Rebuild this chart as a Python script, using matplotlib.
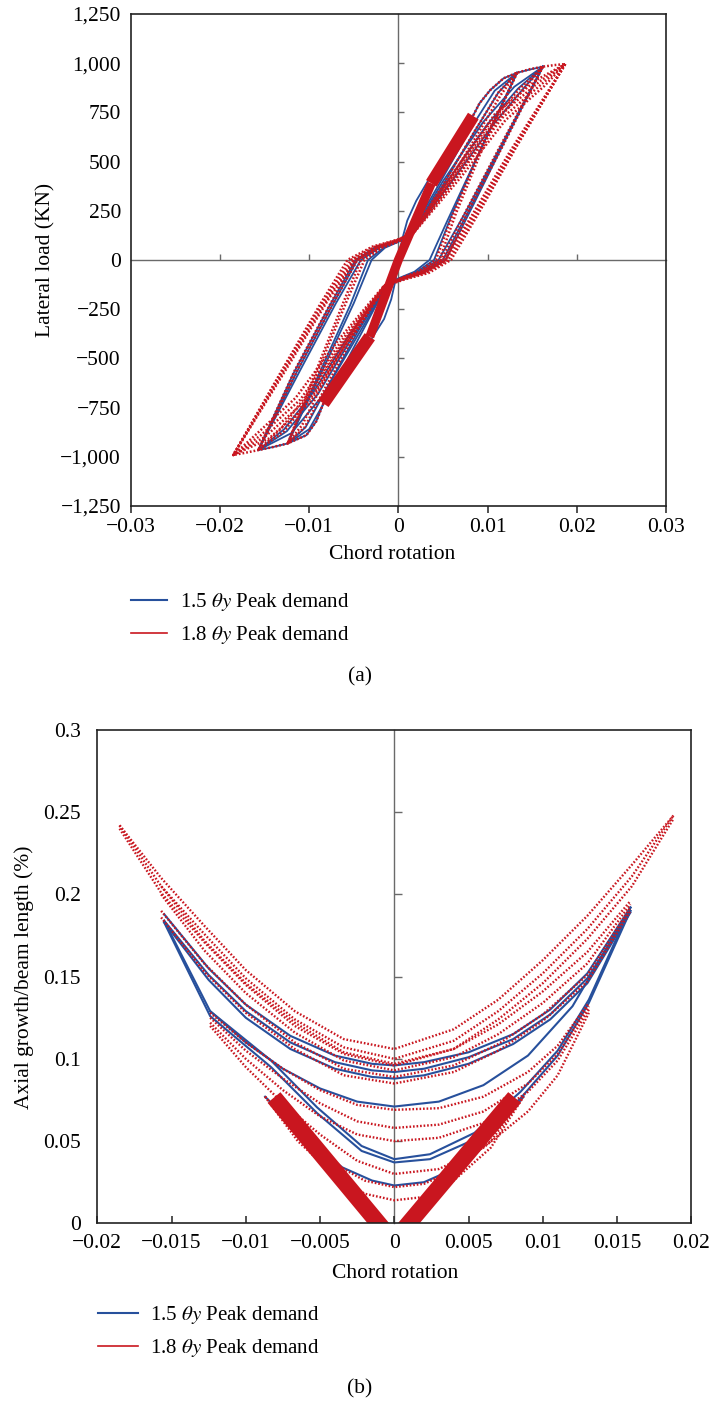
import matplotlib
matplotlib.use('Agg')
import matplotlib.pyplot as plt
from matplotlib.lines import Line2D

plt.rcParams['font.family'] = ['Liberation Serif', 'DejaVu Serif']
plt.rcParams['mathtext.fontset'] = 'stix'
plt.rcParams['font.size'] = 15.5

# ---------------- data: panel (a) lateral load vs chord rotation ----------------
a_xticks = [-0.03, -0.02, -0.01, 0.0, 0.01, 0.02, 0.03]
a_xticklabels = ['\u22120.03', '\u22120.02', '\u22120.01', '0', '0.01', '0.02', '0.03']
a_yticks = [-1250, -1000, -750, -500, -250, 0, 250, 500, 750, 1000, 1250]
a_yticklabels = ['\u22121,250', '\u22121,000', '\u2212750', '\u2212500', '\u2212250', '0',
                 '250', '500', '750', '1,000', '1,250']

# elastic small cycles (dense red band)
a_band_in_x = [-0.0032, 0.0, 0.0037]
a_band_in_y = [-390, 0, 389]
a_band_out_pos_x = [0.0037, 0.0084]
a_band_out_pos_y = [389, 731]
a_band_out_neg_x = [-0.0084, -0.0032]
a_band_out_neg_y = [-729, -390]

# blue backbone
a_blue_env_pos_x = [0.0, 0.0004, 0.0010, 0.0020, 0.0033, 0.0050, 0.0067, 0.0084, 0.0091, 0.0103, 0.0118, 0.0133, 0.0148, 0.0162]
a_blue_env_pos_y = [0, 100, 200, 300, 400, 520, 630, 735, 796, 863, 923, 951, 968, 982]
a_blue_env_neg_x = [0.0, -0.0003, -0.0008, -0.0016, -0.0030, -0.0048, -0.0066, -0.0084, -0.0092, -0.0103, -0.0124, -0.0140, -0.0157]
a_blue_env_neg_y = [0, -100, -200, -300, -400, -520, -630, -729, -820, -890, -932, -950, -966]

# red backbone beyond the elastic band
a_red_env_pos_x = [0.0084, 0.0091, 0.0103, 0.0118, 0.0133, 0.0148, 0.0162, 0.0175, 0.0187]
a_red_env_pos_y = [735, 796, 863, 923, 951, 970, 982, 990, 995]
a_red_env_neg_x = [-0.0084, -0.0092, -0.0103, -0.0124, -0.0140, -0.0157, -0.0172, -0.0185]
a_red_env_neg_y = [-729, -820, -890, -932, -950, -966, -980, -991]

# blue cycles
a_blue_c1_x = [0.0133, 0.0090, 0.0055, 0.0035, 0.0018, 0.0003, -0.0012, -0.0040, -0.0075, -0.0100, -0.0124, -0.0085, -0.0050, -0.0030, -0.0015, 0.0000, 0.0012, 0.0045, 0.0080, 0.0108, 0.0133]
a_blue_c1_y = [951, 540, 200, 0, -60, -88, -118, -360, -660, -860, -932, -560, -220, 0, 62, 92, 122, 380, 660, 860, 951]
a_blue_c2_x = [0.0133, 0.0092, 0.0060, 0.0040, 0.0020, 0.0004, -0.0012, -0.0045, -0.0080, -0.0104, -0.0124, -0.0088, -0.0054, -0.0034, -0.0016, 0.0000, 0.0013, 0.0050, 0.0085, 0.0112, 0.0133]
a_blue_c2_y = [951, 560, 230, 0, -62, -90, -120, -360, -650, -850, -932, -570, -230, 0, 64, 94, 124, 380, 650, 850, 951]
a_blue_c3_x = [0.0162, 0.0115, 0.0075, 0.0045, 0.0022, 0.0004, -0.0012, -0.0045, -0.0085, -0.0120, -0.0157, -0.0110, -0.0070, -0.0042, -0.0020, 0.0000, 0.0014, 0.0050, 0.0095, 0.0130, 0.0162]
a_blue_c3_y = [982, 580, 240, 0, -62, -92, -125, -380, -690, -880, -966, -560, -220, 0, 65, 95, 128, 400, 700, 880, 982]
a_blue_c4_x = [0.0162, 0.0118, 0.0080, 0.0050, 0.0025, 0.0005, -0.0012, -0.0050, -0.0090, -0.0125, -0.0157, -0.0114, -0.0074, -0.0046, -0.0022, 0.0000, 0.0015, 0.0055, 0.0100, 0.0134, 0.0162]
a_blue_c4_y = [982, 600, 260, 0, -64, -94, -128, -380, -680, -870, -966, -570, -230, 0, 66, 96, 130, 400, 690, 870, 982]
a_blue_c5_x = [0.0162, 0.0120, 0.0084, 0.0053, 0.0028, 0.0006, -0.0012, -0.0055, -0.0095, -0.0128, -0.0157, -0.0118, -0.0078, -0.0048, -0.0025, 0.0000, 0.0016, 0.0060, 0.0105, 0.0138, 0.0162]
a_blue_c5_y = [982, 610, 280, 0, -66, -96, -130, -380, -670, -860, -966, -580, -240, 0, 67, 97, 132, 400, 680, 860, 982]

# red cycles
a_red_c1_x = [0.0133, 0.0088, 0.0060, 0.0042, 0.0022, 0.0004, -0.0013, -0.0048, -0.0082, -0.0105, -0.0124, -0.0088, -0.0058, -0.0038, -0.0018, 0.0000, 0.0014, 0.0050, 0.0085, 0.0112, 0.0133]
a_red_c1_y = [951, 520, 220, 0, -60, -90, -122, -370, -650, -850, -932, -540, -210, 0, 62, 94, 126, 380, 650, 850, 951]
a_red_c2_x = [0.0162, 0.0112, 0.0076, 0.0048, 0.0026, 0.0004, -0.0014, -0.0052, -0.0095, -0.0128, -0.0157, -0.0112, -0.0073, -0.0046, -0.0022, 0.0000, 0.0015, 0.0058, 0.0102, 0.0136, 0.0162]
a_red_c2_y = [982, 560, 250, 0, -64, -93, -126, -380, -680, -870, -966, -550, -220, 0, 64, 96, 128, 400, 690, 870, 982]
a_red_c3_x = [0.0187, 0.0128, 0.0082, 0.0053, 0.0029, 0.0005, -0.0015, -0.0058, -0.0105, -0.0150, -0.0185, -0.0128, -0.0080, -0.0050, -0.0025, -0.0002, 0.0015, 0.0062, 0.0112, 0.0158, 0.0187]
a_red_c3_y = [995, 560, 210, 0, -62, -95, -130, -400, -720, -900, -991, -560, -200, 0, 65, 98, 132, 420, 730, 905, 995]
a_red_c4_x = [0.0187, 0.0131, 0.0086, 0.0056, 0.0031, 0.0006, -0.0016, -0.0062, -0.0110, -0.0154, -0.0185, -0.0131, -0.0084, -0.0053, -0.0027, -0.0002, 0.0016, 0.0066, 0.0116, 0.0161, 0.0187]
a_red_c4_y = [995, 570, 220, 0, -64, -97, -133, -400, -710, -890, -991, -570, -210, 0, 66, 100, 134, 420, 720, 895, 995]
a_red_c5_x = [0.0187, 0.0125, 0.0079, 0.0050, 0.0027, 0.0004, -0.0014, -0.0055, -0.0100, -0.0146, -0.0185, -0.0125, -0.0077, -0.0047, -0.0023, -0.0002, 0.0014, 0.0058, 0.0108, 0.0155, 0.0187]
a_red_c5_y = [995, 550, 200, 0, -60, -93, -128, -400, -730, -910, -991, -550, -190, 0, 64, 96, 130, 420, 740, 915, 995]
a_red_c6_x = [0.0162, 0.0116, 0.0080, 0.0053, 0.0029, 0.0005, -0.0015, -0.0056, -0.0100, -0.0132, -0.0157, -0.0116, -0.0077, -0.0050, -0.0025, 0.0000, 0.0016, 0.0062, 0.0106, 0.0139, 0.0162]
a_red_c6_y = [982, 570, 260, 0, -66, -95, -128, -380, -670, -860, -966, -560, -230, 0, 66, 97, 130, 400, 680, 860, 982]
a_red_c7_x = [0.0133, 0.0091, 0.0064, 0.0046, 0.0025, 0.0005, -0.0014, -0.0052, -0.0086, -0.0108, -0.0124, -0.0091, -0.0062, -0.0042, -0.0020, 0.0000, 0.0015, 0.0054, 0.0089, 0.0115, 0.0133]
a_red_c7_y = [951, 530, 230, 0, -62, -92, -124, -370, -640, -840, -932, -550, -220, 0, 63, 95, 127, 380, 640, 840, 951]
a_red_c8_x = [0.0187, 0.0133, 0.0089, 0.0059, 0.0034, 0.0007, -0.0017, -0.0066, -0.0115, -0.0158, -0.0185, -0.0133, -0.0087, -0.0057, -0.0029, -0.0002, 0.0017, 0.0070, 0.0120, 0.0164, 0.0187]
a_red_c8_y = [995, 580, 230, 0, -66, -99, -136, -400, -700, -880, -991, -580, -220, 0, 68, 102, 136, 420, 710, 885, 995]

# ---------------- data: panel (b) axial growth vs chord rotation ----------------
b_xticks = [-0.02, -0.015, -0.01, -0.005, 0.0, 0.005, 0.01, 0.015, 0.02]
b_xticklabels = ['\u22120.02', '\u22120.015', '\u22120.01', '\u22120.005', '0', '0.005', '0.01', '0.015', '0.02']
b_yticks = [0.0, 0.05, 0.1, 0.15, 0.2, 0.25, 0.3]
b_yticklabels = ['0', '0.05', '0.1', '0.15', '0.2', '0.25', '0.3']

b_v_left_x = [-0.0081, -0.0007]
b_v_left_y = [0.0765, -0.004]
b_v_right_x = [0.0006, 0.0081]
b_v_right_y = [-0.004, 0.0765]

b_red_big_x = [-0.0185, -0.0157, -0.0128, -0.0100, -0.0067, -0.0034, 0.0, 0.0040, 0.0070, 0.0100, 0.0130, 0.0160, 0.0188]
b_red_big1_y = [0.242, 0.210, 0.181, 0.154, 0.129, 0.112, 0.106, 0.118, 0.136, 0.160, 0.187, 0.218, 0.248]
b_red_big2_y = [0.242, 0.205, 0.176, 0.149, 0.124, 0.107, 0.100, 0.111, 0.129, 0.152, 0.179, 0.211, 0.248]
b_red_big3_y = [0.240, 0.201, 0.171, 0.145, 0.120, 0.103, 0.096, 0.106, 0.124, 0.146, 0.173, 0.205, 0.246]

b_red_mid_x = [-0.0157, -0.0128, -0.0100, -0.0067, -0.0034, 0.0, 0.0040, 0.0070, 0.0100, 0.0130, 0.0159]
b_red_mid1_y = [0.205, 0.172, 0.146, 0.122, 0.104, 0.097, 0.106, 0.121, 0.141, 0.165, 0.196]
b_red_mid2_y = [0.200, 0.166, 0.140, 0.116, 0.099, 0.093, 0.101, 0.115, 0.134, 0.158, 0.194]
b_red_mid3_y = [0.190, 0.158, 0.133, 0.110, 0.094, 0.089, 0.096, 0.109, 0.127, 0.151, 0.192]
b_red_mid4_y = [0.186, 0.153, 0.128, 0.106, 0.090, 0.085, 0.092, 0.105, 0.123, 0.147, 0.190]

b_red_low_x = [-0.0124, -0.0100, -0.0075, -0.0050, -0.0025, 0.0, 0.0030, 0.0060, 0.0090, 0.0110, 0.0131]
b_red_low1_y = [0.128, 0.110, 0.094, 0.081, 0.072, 0.069, 0.070, 0.077, 0.092, 0.108, 0.134]
b_red_low2_y = [0.125, 0.105, 0.088, 0.073, 0.062, 0.058, 0.060, 0.068, 0.085, 0.103, 0.132]
b_red_low3_y = [0.122, 0.100, 0.081, 0.065, 0.054, 0.050, 0.052, 0.061, 0.080, 0.099, 0.130]
b_red_low4_y = [0.120, 0.095, 0.073, 0.054, 0.038, 0.030, 0.033, 0.046, 0.068, 0.090, 0.128]

b_red_in_x = [-0.0087, -0.0065, -0.0040, -0.0020, 0.0, 0.0020, 0.0040, 0.0065, 0.0087]
b_red_in1_y = [0.077, 0.055, 0.036, 0.026, 0.022, 0.024, 0.032, 0.050, 0.077]
b_red_in2_y = [0.077, 0.050, 0.029, 0.018, 0.014, 0.016, 0.026, 0.046, 0.077]

b_blue_up_x = [-0.0155, -0.0125, -0.0100, -0.0070, -0.0040, -0.0015, 0.0, 0.0020, 0.0050, 0.0080, 0.0105, 0.0130, 0.0159]
b_blue_up1_y = [0.188, 0.155, 0.133, 0.114, 0.102, 0.097, 0.096, 0.098, 0.104, 0.115, 0.130, 0.152, 0.192]
b_blue_up2_y = [0.184, 0.151, 0.129, 0.110, 0.098, 0.093, 0.092, 0.094, 0.101, 0.112, 0.127, 0.149, 0.190]
b_blue_up3_y = [0.183, 0.148, 0.125, 0.106, 0.094, 0.089, 0.088, 0.090, 0.097, 0.109, 0.124, 0.146, 0.189]

b_blue_mid_x = [-0.0124, -0.0100, -0.0075, -0.0050, -0.0025, 0.0, 0.0030, 0.0060, 0.0090, 0.0120, 0.0159]
b_blue_mid_y = [0.129, 0.110, 0.094, 0.082, 0.074, 0.071, 0.074, 0.084, 0.102, 0.132, 0.192]

b_blue_low_x = [-0.0155, -0.0124, -0.0083, -0.0052, -0.0022, 0.0, 0.0024, 0.0054, 0.0085, 0.0110, 0.0131, 0.0159]
b_blue_low1_y = [0.184, 0.129, 0.099, 0.0705, 0.047, 0.039, 0.042, 0.055, 0.080, 0.105, 0.136, 0.192]
b_blue_low2_y = [0.183, 0.126, 0.095, 0.067, 0.044, 0.037, 0.039, 0.051, 0.076, 0.102, 0.134, 0.190]

b_blue_in_x = [-0.0087, -0.0060, -0.0035, -0.0015, 0.0, 0.0020, 0.0045, 0.0070, 0.0087]
b_blue_in_y = [0.077, 0.052, 0.034, 0.026, 0.023, 0.025, 0.035, 0.058, 0.077]

legend_labels = [r'1.5 $\theta y$ Peak demand', r'1.8 $\theta y$ Peak demand']

# ---------------- styling ----------------
RED = '#c9161f'
BLUE = '#27509c'
DOT = (0, (0.7, 0.8))
FRAME = '#222222'
CENTER = '#6a6a6a'

W, H = 709, 1405
fig = plt.figure(figsize=(W / 100, H / 100), dpi=100)


def px_axes(left, top, right, bottom):
    return [left / W, 1 - bottom / H, (right - left) / W, (bottom - top) / H]


def make_axes(rect, xlim, ylim, xt, xtl, yt, ytl, xtick_dir, ypad, xpad, center_h,
              cx_ticks, cy_ticks, clen):
    axc = fig.add_axes(rect)
    ax = fig.add_axes(rect)
    axc.set_zorder(1)
    ax.set_zorder(2)
    ax.patch.set_visible(False)
    for a in (ax, axc):
        a.set_xlim(*xlim)
        a.set_ylim(*ylim)
    axc.spines['top'].set_visible(False)
    axc.spines['right'].set_visible(False)
    axc.spines['left'].set_position(('data', 0))
    axc.spines['left'].set_color(CENTER)
    axc.spines['left'].set_linewidth(1.0)
    if center_h:
        axc.spines['bottom'].set_position(('data', 0))
        axc.spines['bottom'].set_color(CENTER)
        axc.spines['bottom'].set_linewidth(1.0)
        axc.set_xticks(cx_ticks)
    else:
        axc.spines['bottom'].set_visible(False)
        axc.set_xticks([])
    axc.set_yticks(cy_ticks)
    axc.tick_params(axis='both', direction='in', length=clen, width=1.0, color=CENTER,
                    labelleft=False, labelbottom=False)
    for s in ax.spines.values():
        s.set_color(FRAME)
        s.set_linewidth(1.2)
    ax.set_xticks(xt)
    ax.set_xticklabels(xtl)
    ax.set_yticks(yt)
    ax.set_yticklabels(ytl)
    ax.tick_params(axis='x', direction=xtick_dir, length=5, width=1.1, color=FRAME,
                   pad=xpad, labelsize=15.5)
    ax.tick_params(axis='y', length=0, pad=ypad, labelsize=15.5)
    return ax


# ---------------- panel (a) ----------------
ax_a = make_axes(px_axes(130.7, 13.9, 666, 506), (-0.03, 0.03), (-1250, 1250),
                 a_xticks, a_xticklabels, a_yticks, a_yticklabels, 'out', 7, 4, True,
                 [-0.02, -0.01, 0.01, 0.02], [-1000, -750, -500, -250, 250, 500, 750, 1000], 4.5)

blue_a = [(a_blue_env_pos_x, a_blue_env_pos_y), (a_blue_env_neg_x, a_blue_env_neg_y),
          (a_blue_c1_x, a_blue_c1_y), (a_blue_c2_x, a_blue_c2_y),
          (a_blue_c3_x, a_blue_c3_y), (a_blue_c4_x, a_blue_c4_y), (a_blue_c5_x, a_blue_c5_y)]
for xs, ys in blue_a:
    ax_a.plot(xs, ys, color=BLUE, lw=1.3, solid_joinstyle='round')

red_a = [(a_red_env_pos_x, a_red_env_pos_y), (a_red_env_neg_x, a_red_env_neg_y),
         (a_red_c1_x, a_red_c1_y), (a_red_c2_x, a_red_c2_y),
         (a_red_c3_x, a_red_c3_y), (a_red_c4_x, a_red_c4_y),
         (a_red_c5_x, a_red_c5_y), (a_red_c6_x, a_red_c6_y),
         (a_red_c7_x, a_red_c7_y), (a_red_c8_x, a_red_c8_y)]
for xs, ys in red_a:
    ax_a.plot(xs, ys, color=RED, lw=1.8, linestyle=DOT)

ax_a.plot(a_band_in_x, a_band_in_y, color=RED, lw=6.5, solid_capstyle='butt')
ax_a.plot(a_band_out_pos_x, a_band_out_pos_y, color=RED, lw=9, solid_capstyle='butt')
ax_a.plot(a_band_out_neg_x, a_band_out_neg_y, color=RED, lw=9, solid_capstyle='butt')

# ---------------- panel (b) ----------------
ax_b = make_axes(px_axes(97.3, 730, 691.3, 1223.3), (-0.02, 0.02), (0, 0.3),
                 b_xticks, b_xticklabels, b_yticks, b_yticklabels, 'in', 12, 8, False,
                 [], [0.05, 0.1, 0.15, 0.2, 0.25], 6)

blue_b = [(b_blue_up_x, b_blue_up1_y), (b_blue_up_x, b_blue_up2_y), (b_blue_up_x, b_blue_up3_y),
          (b_blue_mid_x, b_blue_mid_y), (b_blue_low_x, b_blue_low1_y),
          (b_blue_low_x, b_blue_low2_y), (b_blue_in_x, b_blue_in_y)]
for xs, ys in blue_b:
    ax_b.plot(xs, ys, color=BLUE, lw=1.5, solid_joinstyle='round')

red_b = [(b_red_big_x, b_red_big1_y), (b_red_big_x, b_red_big2_y), (b_red_big_x, b_red_big3_y),
         (b_red_mid_x, b_red_mid1_y), (b_red_mid_x, b_red_mid2_y), (b_red_mid_x, b_red_mid3_y),
         (b_red_mid_x, b_red_mid4_y),
         (b_red_low_x, b_red_low1_y), (b_red_low_x, b_red_low2_y),
         (b_red_low_x, b_red_low3_y), (b_red_low_x, b_red_low4_y),
         (b_red_in_x, b_red_in1_y), (b_red_in_x, b_red_in2_y)]
for xs, ys in red_b:
    ax_b.plot(xs, ys, color=RED, lw=1.7, linestyle=DOT)

ax_b.plot(b_v_left_x, b_v_left_y, color=RED, lw=12, solid_capstyle='butt')
ax_b.plot(b_v_right_x, b_v_right_y, color=RED, lw=12, solid_capstyle='butt')

# ---------------- labels, legends, captions ----------------
fig.text(392 / W, 1 - 555 / H, 'Chord rotation', ha='center', va='center', fontsize=15.5)
fig.text(46 / W, 1 - 260 / H, 'Lateral load (KN)', ha='center', va='center', rotation=90, fontsize=15.5)
fig.text(360 / W, 1 - 677 / H, '(a)', ha='center', va='center', fontsize=15.5)

fig.text(395 / W, 1 - 1274 / H, 'Chord rotation', ha='center', va='center', fontsize=15.5)
fig.text(24 / W, 1 - 977 / H, 'Axial growth/beam length (%)', ha='center', va='center', rotation=90, fontsize=15.5)
fig.text(360 / W, 1 - 1389 / H, '(b)', ha='center', va='center', fontsize=15.5)

handles = [Line2D([], [], color=BLUE, lw=1.5), Line2D([], [], color=RED, lw=1.2)]
fig.legend(handles, legend_labels, loc='upper left', bbox_to_anchor=(131 / W, 1 - 591 / H),
           frameon=False, borderpad=0, borderaxespad=0, handlelength=1.75, handletextpad=0.6,
           labelspacing=0.55, fontsize=15)
fig.legend(handles, legend_labels, loc='upper left', bbox_to_anchor=(98 / W, 1 - 1304 / H),
           frameon=False, borderpad=0, borderaxespad=0, handlelength=1.9, handletextpad=0.6,
           labelspacing=0.55, fontsize=15)

fig.savefig('out.png', dpi=100, facecolor='white')
